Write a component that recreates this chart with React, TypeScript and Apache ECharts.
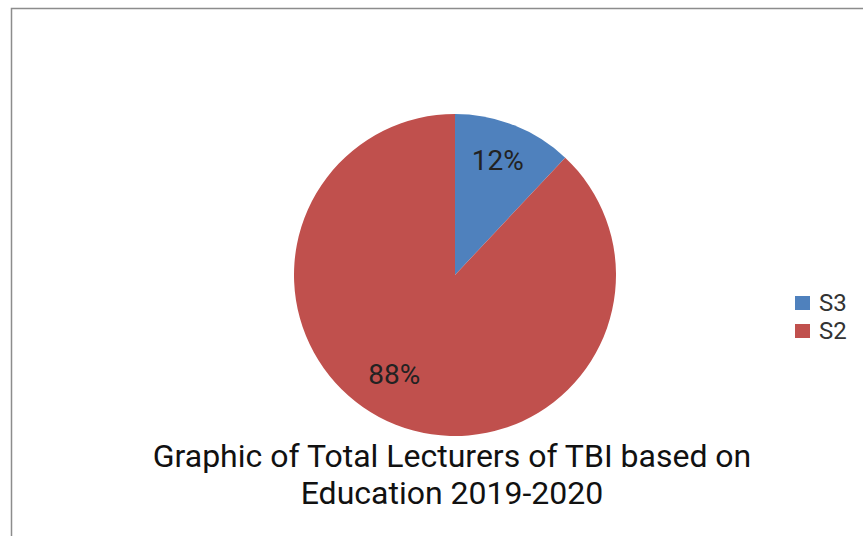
import React, { useEffect, useRef } from "react";
import * as echarts from "echarts";

const categories = ["S3", "S2"];
const values = [12, 88];
const colors = ["#4F81BD", "#C0504D"];
const titleText = "Graphic of Total Lecturers of TBI based on\nEducation 2019-2020";

export default function App() {
  const ref = useRef<HTMLDivElement>(null);
  useEffect(() => {
    if (!ref.current) return;
    const chart = echarts.init(ref.current, null, { renderer: "svg" });
    const data = categories.map((name, i) => ({ name, value: values[i], itemStyle: { color: colors[i] } }));
    const labelOffsets: Record<string, number[]> = { S3: [-2, -2], S2: [-16, -13] };
    chart.setOption({
      animation: false,
      backgroundColor: "#ffffff",
      title: {
        text: titleText,
        left: 452,
        top: 437,
        padding: 0,
        textAlign: "center",
        textStyle: {
          fontFamily: "Roboto",
          fontSize: 32,
          lineHeight: 37,
          fontWeight: "normal",
          color: "#111111",
        },
      },
      legend: {
        orient: "vertical",
        left: 795,
        top: 291,
        padding: 0,
        itemWidth: 15,
        itemHeight: 14,
        itemGap: 4,
        icon: "rect",
        data: categories,
        textStyle: { fontFamily: "Roboto", fontSize: 24, color: "#333333", padding: [0, 0, 0, 4] },
      },
      graphic: [
        {
          type: "rect",
          shape: { x: 11.5, y: 8.5, width: 900, height: 600 },
          style: { fill: "none", stroke: "#8c8c8c", lineWidth: 1.5 },
          silent: true,
        },
      ],
      series: [
        {
          type: "pie",
          center: [455, 275],
          radius: 161,
          startAngle: 90,
          clockwise: true,
          label: { show: false },
          labelLine: { show: false },
          itemStyle: { borderColor: "#ffffff", borderWidth: 0 },
          emphasis: { disabled: true },
          data,
        },
        {
          type: "pie",
          center: [455, 275],
          radius: [76, 161],
          startAngle: 90,
          clockwise: true,
          silent: true,
          legendHoverLink: false,
          itemStyle: { color: "rgba(0,0,0,0)" },
          label: {
            show: true,
            position: "inside",
            formatter: "{d}%",
            fontFamily: "Roboto",
            fontSize: 28,
            color: "#222222",
          },
          labelLine: { show: false },
          emphasis: { disabled: true },
          data: categories.map((name, i) => ({ name, value: values[i], label: { offset: labelOffsets[name] } })),
        },
      ],
    });
    return () => chart.dispose();
  }, []);
  return <div ref={ref} style={{ position: "fixed", left: 0, top: 0, width: 863, height: 536 }} />;
}
